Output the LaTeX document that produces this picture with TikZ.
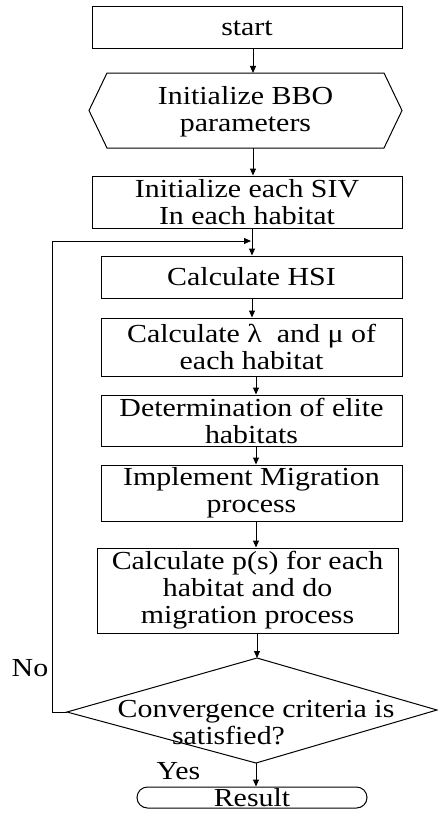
\documentclass[tikz,border=0pt]{standalone}
\usepackage{fontspec}
\setmainfont{Liberation Serif}[FakeStretch=1.15]
\usetikzlibrary{arrows.meta}
\begin{document}
\begin{tikzpicture}[x=1pt,y=-1pt,
  every node/.style={font=\fontsize{26}{27}\selectfont, inner sep=0pt, align=center},
  procbox/.style={draw, line width=1pt},
  shapeline/.style={draw, line width=1pt},
  arr/.style={-{Triangle[length=7pt,width=6pt]}, line width=1pt}]
\useasboundingbox (0,0) rectangle (437,816);
% boxes
\node[procbox, minimum width=310pt, minimum height=42pt] (start) at (247,28) {start};
\coordinate (hexL) at (89,110.5);
\coordinate (hexR) at (402,110.5);
\coordinate (hexN) at (253,73);
\coordinate (hexS) at (253,148);
\draw[shapeline] (hexL) -- (107,73) -- (384,73) -- (hexR) -- (384,148) -- (107,148) -- cycle;
\node (hex) at (245.5,112) {Initialize BBO\\parameters};
\node[procbox, minimum width=310pt, minimum height=52pt] (siv) at (247,202) {Initialize each SIV\\In each habitat};
\node[procbox, minimum width=301pt, minimum height=42pt] (hsi) at (251.5,277) {Calculate HSI};
\node[procbox, minimum width=301pt, minimum height=58pt] (lam) at (251.5,347) {Calculate λ\ \ and μ of\\each habitat};
\node[procbox, minimum width=301pt, minimum height=51pt] (elite) at (251.5,420.5) {Determination of elite\\habitats};
\node[procbox, minimum width=301pt, minimum height=56pt] (mig) at (251.5,493) {Implement Migration\\process};
\node[procbox, minimum width=301pt, minimum height=85pt] (ps) at (247.5,590.5) {Calculate p(s) for each\\habitat and do\\migration process};
% diamond
\coordinate (dT) at (257,658);
\coordinate (dR) at (437,710);
\coordinate (dB) at (256,763);
\coordinate (dL) at (67,712);
\draw[shapeline] (dT) -- (dR) -- (dB) -- (dL) -- cycle;
\node (conv) at (256,723) {Convergence criteria is\\satisfied?\hspace*{55pt}};
\node[procbox, rounded corners=10.5pt, minimum width=230pt, minimum height=21pt] (res) at (252,797.5) {Result};
% labels
\node (no) at (30,668) {No};
\node (yes) at (178.5,771) {Yes};
% connectors
\coordinate (loopend) at (251,241);
\coordinate (xa) at (253,0);
\coordinate (xb) at (252,0);
\coordinate (xc) at (256,0);
\draw[arr] (xa |- start.south) -- (hexN);
\draw[arr] (hexS) -- (hexS |- siv.north);
\draw[arr] (xb |- siv.south) -- (xb |- hsi.north);
\draw[arr] (xb |- hsi.south) -- (xb |- lam.north);
\draw[arr] (xc |- lam.south) -- (xc |- elite.north);
\draw[arr] (xc |- elite.south) -- (xc |- mig.north);
\draw[arr] (xc |- mig.south) -- (xc |- ps.north);
\draw[arr] (dT |- ps.south) -- (dT);
\draw[arr] (dB) -- (dB |- res.north);
\draw[arr] (dL) -- ++(-15,0) |- (loopend);
\end{tikzpicture}
\end{document}
